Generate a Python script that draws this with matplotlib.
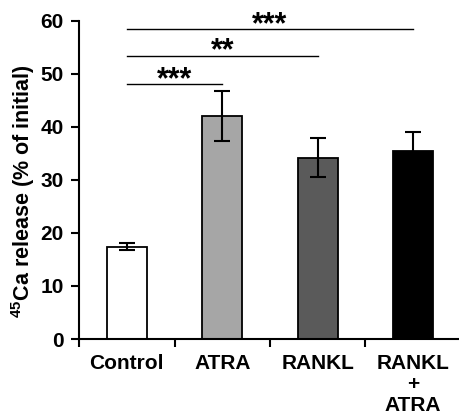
import matplotlib
matplotlib.use("Agg")
import matplotlib.pyplot as plt

categories = ["Control", "ATRA", "RANKL", "RANKL\n+\nATRA"]
values = [17.4, 42.1, 34.2, 35.5]
errors = [0.7, 4.7, 3.7, 3.5]
colors = ["white", "#a6a6a6", "#5a5a5a", "black"]

# significance brackets: (from, to, height, label)
sig_pairs = [(0, 1, 48.0, "***"), (0, 2, 53.4, "**"), (0, 3, 58.4, "***")]

plt.rcParams["font.family"] = ["Liberation Sans", "DejaVu Sans"]
plt.rcParams["font.weight"] = "bold"
plt.rcParams["mathtext.fontset"] = "custom"
plt.rcParams["mathtext.bf"] = "Liberation Sans:bold"
plt.rcParams["mathtext.rm"] = "Liberation Sans:bold"

fig = plt.figure(figsize=(4.6, 4.17), dpi=100)
ax = fig.add_axes([0.172, 0.187, 0.83, 0.763])

x = list(range(len(categories)))
ax.bar(x, values, width=0.42, color=colors, edgecolor="black", linewidth=1.3,
       yerr=errors, capsize=6, error_kw=dict(elinewidth=1.5, capthick=1.5, ecolor="black"),
       zorder=2)

for a, b, h, lab in sig_pairs:
    ax.plot([a, b], [h, h], color="black", lw=1.0, clip_on=False)
    ax.annotate(lab, ((a + b) / 2, h), xytext=(0, -2.5), textcoords="offset points",
                ha="center", va="baseline", fontsize=22, fontweight="bold",
                annotation_clip=False)

ax.set_xlim(-0.5, 3.5)
ax.set_ylim(0, 60)
ax.set_yticks([0, 10, 20, 30, 40, 50, 60])
ax.set_xticks([-0.5, 0.5, 1.5, 2.5, 3.5])
ax.set_xticklabels([])
ax.set_xticks(x, minor=True)
ax.set_xticklabels(categories, minor=True, linespacing=1.13)
ax.tick_params(axis="x", which="minor", length=0, pad=11, labelsize=15)
ax.tick_params(axis="x", which="major", length=6, width=1.5, direction="out")
ax.tick_params(axis="y", length=6, width=1.5, direction="out", labelsize=15, pad=5)

for lab in ax.get_xticklabels(minor=True) + ax.get_yticklabels():
    lab.set_fontweight("bold")

ax.spines["top"].set_visible(False)
ax.spines["right"].set_visible(False)
ax.spines["left"].set_linewidth(1.5)
ax.spines["bottom"].set_linewidth(1.5)

ax.set_ylabel(r"$\mathbf{^{45}}$Ca release (% of initial)", fontsize=15.5, fontweight="bold")
ax.yaxis.set_label_coords(-0.11, 0.465)

fig.savefig("out.png", dpi=100)
